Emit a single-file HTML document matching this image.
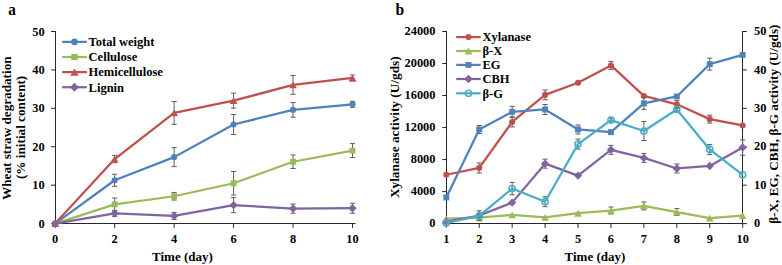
<!DOCTYPE html>
<html><head><meta charset="utf-8"><style>html,body{margin:0;padding:0;background:#fff;width:782px;height:265px;overflow:hidden}svg{display:block}</style></head>
<body><svg width="782" height="265" viewBox="0 0 782 265">
<rect width="782" height="265" fill="#fff"/>
<path d="M55.5 31.00V223.5H355.5" stroke="#262626" stroke-width="1" fill="none"/>
<path d="M51 223.60H55.5" stroke="#262626" stroke-width="1"/>
<text x="44.6" y="227.70" text-anchor="end" font-family="Liberation Serif" font-weight="bold" font-size="12.4">0</text>
<path d="M51 185.18H55.5" stroke="#262626" stroke-width="1"/>
<text x="44.6" y="189.28" text-anchor="end" font-family="Liberation Serif" font-weight="bold" font-size="12.4">10</text>
<path d="M51 146.76H55.5" stroke="#262626" stroke-width="1"/>
<text x="44.6" y="150.86" text-anchor="end" font-family="Liberation Serif" font-weight="bold" font-size="12.4">20</text>
<path d="M51 108.34H55.5" stroke="#262626" stroke-width="1"/>
<text x="44.6" y="112.44" text-anchor="end" font-family="Liberation Serif" font-weight="bold" font-size="12.4">30</text>
<path d="M51 69.92H55.5" stroke="#262626" stroke-width="1"/>
<text x="44.6" y="74.02" text-anchor="end" font-family="Liberation Serif" font-weight="bold" font-size="12.4">40</text>
<path d="M51 31.50H55.5" stroke="#262626" stroke-width="1"/>
<text x="44.6" y="35.60" text-anchor="end" font-family="Liberation Serif" font-weight="bold" font-size="12.4">50</text>
<path d="M55.20 223.5V227.8" stroke="#262626" stroke-width="1"/>
<text x="55.20" y="242.7" text-anchor="middle" font-family="Liberation Serif" font-weight="bold" font-size="12.4">0</text>
<path d="M114.66 223.5V227.8" stroke="#262626" stroke-width="1"/>
<text x="114.66" y="242.7" text-anchor="middle" font-family="Liberation Serif" font-weight="bold" font-size="12.4">2</text>
<path d="M174.12 223.5V227.8" stroke="#262626" stroke-width="1"/>
<text x="174.12" y="242.7" text-anchor="middle" font-family="Liberation Serif" font-weight="bold" font-size="12.4">4</text>
<path d="M233.58 223.5V227.8" stroke="#262626" stroke-width="1"/>
<text x="233.58" y="242.7" text-anchor="middle" font-family="Liberation Serif" font-weight="bold" font-size="12.4">6</text>
<path d="M293.04 223.5V227.8" stroke="#262626" stroke-width="1"/>
<text x="293.04" y="242.7" text-anchor="middle" font-family="Liberation Serif" font-weight="bold" font-size="12.4">8</text>
<path d="M352.50 223.5V227.8" stroke="#262626" stroke-width="1"/>
<text x="352.50" y="242.7" text-anchor="middle" font-family="Liberation Serif" font-weight="bold" font-size="12.4">10</text>
<path d="M114.66 174.26V186.26M112.06 174.26H117.26M112.06 186.26H117.26" stroke="#5f5f5f" stroke-width="1" fill="none"/>
<path d="M174.12 147.63V166.63M171.52 147.63H176.72M171.52 166.63H176.72" stroke="#5f5f5f" stroke-width="1" fill="none"/>
<path d="M233.58 114.48V134.48M230.98 114.48H236.18M230.98 134.48H236.18" stroke="#5f5f5f" stroke-width="1" fill="none"/>
<path d="M293.04 102.58V117.18M290.44 102.58H295.64M290.44 117.18H295.64" stroke="#5f5f5f" stroke-width="1" fill="none"/>
<path d="M352.50 101.31V107.31M349.90 101.31H355.10M349.90 107.31H355.10" stroke="#5f5f5f" stroke-width="1" fill="none"/>
<polyline points="55.20,223.60 114.66,180.26 174.12,157.13 233.58,124.48 293.04,109.88 352.50,104.31" fill="none" stroke="#4F81BD" stroke-width="2.25" stroke-linejoin="round"/>
<circle cx="55.20" cy="223.60" r="3.05" fill="#4F81BD"/>
<circle cx="114.66" cy="180.26" r="3.05" fill="#4F81BD"/>
<circle cx="174.12" cy="157.13" r="3.05" fill="#4F81BD"/>
<circle cx="233.58" cy="124.48" r="3.05" fill="#4F81BD"/>
<circle cx="293.04" cy="109.88" r="3.05" fill="#4F81BD"/>
<circle cx="352.50" cy="104.31" r="3.05" fill="#4F81BD"/>
<path d="M114.66 197.99V210.79M112.06 197.99H117.26M112.06 210.79H117.26" stroke="#5f5f5f" stroke-width="1" fill="none"/>
<path d="M174.12 192.44V200.04M171.52 192.44H176.72M171.52 200.04H176.72" stroke="#5f5f5f" stroke-width="1" fill="none"/>
<path d="M233.58 171.46V195.06M230.98 171.46H236.18M230.98 195.06H236.18" stroke="#5f5f5f" stroke-width="1" fill="none"/>
<path d="M293.04 154.94V168.54M290.44 154.94H295.64M290.44 168.54H295.64" stroke="#5f5f5f" stroke-width="1" fill="none"/>
<path d="M352.50 143.60V157.60M349.90 143.60H355.10M349.90 157.60H355.10" stroke="#5f5f5f" stroke-width="1" fill="none"/>
<polyline points="55.20,223.60 114.66,204.39 174.12,196.24 233.58,183.26 293.04,161.74 352.50,150.60" fill="none" stroke="#9BBB59" stroke-width="2.25" stroke-linejoin="round"/>
<rect x="52.25" y="220.65" width="5.90" height="5.90" fill="#9BBB59"/>
<rect x="111.71" y="201.44" width="5.90" height="5.90" fill="#9BBB59"/>
<rect x="171.17" y="193.29" width="5.90" height="5.90" fill="#9BBB59"/>
<rect x="230.63" y="180.31" width="5.90" height="5.90" fill="#9BBB59"/>
<rect x="290.09" y="158.79" width="5.90" height="5.90" fill="#9BBB59"/>
<rect x="349.55" y="147.65" width="5.90" height="5.90" fill="#9BBB59"/>
<path d="M114.66 155.35V162.75M112.06 155.35H117.26M112.06 162.75H117.26" stroke="#5f5f5f" stroke-width="1" fill="none"/>
<path d="M174.12 101.55V124.35M171.52 101.55H176.72M171.52 124.35H176.72" stroke="#5f5f5f" stroke-width="1" fill="none"/>
<path d="M233.58 93.16V108.16M230.98 93.16H236.18M230.98 108.16H236.18" stroke="#5f5f5f" stroke-width="1" fill="none"/>
<path d="M293.04 75.50V94.30M290.44 75.50H295.64M290.44 94.30H295.64" stroke="#5f5f5f" stroke-width="1" fill="none"/>
<path d="M352.50 74.99V80.99M349.90 74.99H355.10M349.90 80.99H355.10" stroke="#5f5f5f" stroke-width="1" fill="none"/>
<polyline points="55.20,223.60 114.66,159.05 174.12,112.95 233.58,100.66 293.04,84.90 352.50,77.99" fill="none" stroke="#C0504D" stroke-width="2.25" stroke-linejoin="round"/>
<polygon points="55.20,220.20 59.10,227.00 51.30,227.00" fill="#C0504D"/>
<polygon points="114.66,155.65 118.56,162.45 110.76,162.45" fill="#C0504D"/>
<polygon points="174.12,109.55 178.02,116.35 170.22,116.35" fill="#C0504D"/>
<polygon points="233.58,97.26 237.48,104.06 229.68,104.06" fill="#C0504D"/>
<polygon points="293.04,81.50 296.94,88.30 289.14,88.30" fill="#C0504D"/>
<polygon points="352.50,74.59 356.40,81.39 348.60,81.39" fill="#C0504D"/>
<path d="M114.66 210.42V216.42M112.06 210.42H117.26M112.06 216.42H117.26" stroke="#5f5f5f" stroke-width="1" fill="none"/>
<path d="M174.12 212.42V219.42M171.52 212.42H176.72M171.52 219.42H176.72" stroke="#5f5f5f" stroke-width="1" fill="none"/>
<path d="M233.58 197.66V212.66M230.98 197.66H236.18M230.98 212.66H236.18" stroke="#5f5f5f" stroke-width="1" fill="none"/>
<path d="M293.04 204.02V213.22M290.44 204.02H295.64M290.44 213.22H295.64" stroke="#5f5f5f" stroke-width="1" fill="none"/>
<path d="M352.50 203.23V213.23M349.90 203.23H355.10M349.90 213.23H355.10" stroke="#5f5f5f" stroke-width="1" fill="none"/>
<polyline points="55.20,223.60 114.66,213.42 174.12,215.92 233.58,205.16 293.04,208.62 352.50,208.23" fill="none" stroke="#8064A2" stroke-width="2.25" stroke-linejoin="round"/>
<polygon points="55.20,219.40 59.40,223.60 55.20,227.80 51.00,223.60" fill="#8064A2"/>
<polygon points="114.66,209.22 118.86,213.42 114.66,217.62 110.46,213.42" fill="#8064A2"/>
<polygon points="174.12,211.72 178.32,215.92 174.12,220.12 169.92,215.92" fill="#8064A2"/>
<polygon points="233.58,200.96 237.78,205.16 233.58,209.36 229.38,205.16" fill="#8064A2"/>
<polygon points="293.04,204.42 297.24,208.62 293.04,212.82 288.84,208.62" fill="#8064A2"/>
<polygon points="352.50,204.03 356.70,208.23 352.50,212.43 348.30,208.23" fill="#8064A2"/>
<path d="M62.2 41.90H86.9" stroke="#4F81BD" stroke-width="2.25"/>
<circle cx="74.50" cy="41.90" r="3.29" fill="#4F81BD"/>
<text x="88.6" y="46.20" font-family="Liberation Serif" font-weight="bold" font-size="12.5">Total weight</text>
<path d="M62.2 57.00H86.9" stroke="#9BBB59" stroke-width="2.25"/>
<rect x="71.31" y="53.81" width="6.37" height="6.37" fill="#9BBB59"/>
<text x="88.6" y="61.30" font-family="Liberation Serif" font-weight="bold" font-size="12.5">Cellulose</text>
<path d="M62.2 72.10H86.9" stroke="#C0504D" stroke-width="2.25"/>
<polygon points="74.50,68.43 78.71,75.77 70.29,75.77" fill="#C0504D"/>
<text x="88.6" y="76.40" font-family="Liberation Serif" font-weight="bold" font-size="12.5">Hemicellulose</text>
<path d="M62.2 87.20H86.9" stroke="#8064A2" stroke-width="2.25"/>
<polygon points="74.50,82.66 79.04,87.20 74.50,91.74 69.96,87.20" fill="#8064A2"/>
<text x="88.6" y="91.50" font-family="Liberation Serif" font-weight="bold" font-size="12.5">Lignin</text>
<text x="152" y="260.7" font-family="Liberation Serif" font-weight="bold" font-size="13">Time (day)</text>
<text transform="translate(11,128.2) rotate(-90)" text-anchor="middle" font-family="Liberation Serif" font-weight="bold" font-size="13.2">Wheat straw degradation</text>
<text transform="translate(25,127.4) rotate(-90)" text-anchor="middle" font-family="Liberation Serif" font-weight="bold" font-size="13.2">(% initial content)</text>
<text transform="translate(8.2,14.9) scale(1,1.1)" font-family="Liberation Serif" font-weight="bold" font-size="15.2">a</text>
<path d="M446.5 31.00V223.5H742.5V31.00" stroke="#262626" stroke-width="1" fill="none"/>
<path d="M442.3 223.60H446.5" stroke="#262626" stroke-width="1"/>
<text x="435.5" y="227.20" text-anchor="end" font-family="Liberation Serif" font-weight="bold" font-size="12.4">0</text>
<path d="M442.3 191.58H446.5" stroke="#262626" stroke-width="1"/>
<text x="435.5" y="195.18" text-anchor="end" font-family="Liberation Serif" font-weight="bold" font-size="12.4">4000</text>
<path d="M442.3 159.57H446.5" stroke="#262626" stroke-width="1"/>
<text x="435.5" y="163.17" text-anchor="end" font-family="Liberation Serif" font-weight="bold" font-size="12.4">8000</text>
<path d="M442.3 127.55H446.5" stroke="#262626" stroke-width="1"/>
<text x="435.5" y="131.15" text-anchor="end" font-family="Liberation Serif" font-weight="bold" font-size="12.4">12000</text>
<path d="M442.3 95.53H446.5" stroke="#262626" stroke-width="1"/>
<text x="435.5" y="99.13" text-anchor="end" font-family="Liberation Serif" font-weight="bold" font-size="12.4">16000</text>
<path d="M442.3 63.52H446.5" stroke="#262626" stroke-width="1"/>
<text x="435.5" y="67.12" text-anchor="end" font-family="Liberation Serif" font-weight="bold" font-size="12.4">20000</text>
<path d="M442.3 31.50H446.5" stroke="#262626" stroke-width="1"/>
<text x="435.5" y="35.10" text-anchor="end" font-family="Liberation Serif" font-weight="bold" font-size="12.4">24000</text>
<path d="M742.5 223.60H746.8" stroke="#262626" stroke-width="1"/>
<text x="754.0" y="227.30" font-family="Liberation Serif" font-weight="bold" font-size="12.4">0</text>
<path d="M742.5 185.18H746.8" stroke="#262626" stroke-width="1"/>
<text x="754.0" y="188.88" font-family="Liberation Serif" font-weight="bold" font-size="12.4">10</text>
<path d="M742.5 146.76H746.8" stroke="#262626" stroke-width="1"/>
<text x="754.0" y="150.46" font-family="Liberation Serif" font-weight="bold" font-size="12.4">20</text>
<path d="M742.5 108.34H746.8" stroke="#262626" stroke-width="1"/>
<text x="754.0" y="112.04" font-family="Liberation Serif" font-weight="bold" font-size="12.4">30</text>
<path d="M742.5 69.92H746.8" stroke="#262626" stroke-width="1"/>
<text x="754.0" y="73.62" font-family="Liberation Serif" font-weight="bold" font-size="12.4">40</text>
<path d="M742.5 31.50H746.8" stroke="#262626" stroke-width="1"/>
<text x="754.0" y="35.20" font-family="Liberation Serif" font-weight="bold" font-size="12.4">50</text>
<path d="M446.30 223.5V227.8" stroke="#262626" stroke-width="1"/>
<text x="446.30" y="242.7" text-anchor="middle" font-family="Liberation Serif" font-weight="bold" font-size="12.4">1</text>
<path d="M479.23 223.5V227.8" stroke="#262626" stroke-width="1"/>
<text x="479.23" y="242.7" text-anchor="middle" font-family="Liberation Serif" font-weight="bold" font-size="12.4">2</text>
<path d="M512.16 223.5V227.8" stroke="#262626" stroke-width="1"/>
<text x="512.16" y="242.7" text-anchor="middle" font-family="Liberation Serif" font-weight="bold" font-size="12.4">3</text>
<path d="M545.09 223.5V227.8" stroke="#262626" stroke-width="1"/>
<text x="545.09" y="242.7" text-anchor="middle" font-family="Liberation Serif" font-weight="bold" font-size="12.4">4</text>
<path d="M578.02 223.5V227.8" stroke="#262626" stroke-width="1"/>
<text x="578.02" y="242.7" text-anchor="middle" font-family="Liberation Serif" font-weight="bold" font-size="12.4">5</text>
<path d="M610.95 223.5V227.8" stroke="#262626" stroke-width="1"/>
<text x="610.95" y="242.7" text-anchor="middle" font-family="Liberation Serif" font-weight="bold" font-size="12.4">6</text>
<path d="M643.88 223.5V227.8" stroke="#262626" stroke-width="1"/>
<text x="643.88" y="242.7" text-anchor="middle" font-family="Liberation Serif" font-weight="bold" font-size="12.4">7</text>
<path d="M676.81 223.5V227.8" stroke="#262626" stroke-width="1"/>
<text x="676.81" y="242.7" text-anchor="middle" font-family="Liberation Serif" font-weight="bold" font-size="12.4">8</text>
<path d="M709.74 223.5V227.8" stroke="#262626" stroke-width="1"/>
<text x="709.74" y="242.7" text-anchor="middle" font-family="Liberation Serif" font-weight="bold" font-size="12.4">9</text>
<path d="M742.67 223.5V227.8" stroke="#262626" stroke-width="1"/>
<text x="742.67" y="242.7" text-anchor="middle" font-family="Liberation Serif" font-weight="bold" font-size="12.4">10</text>
<path d="M479.23 162.97V172.97M476.63 162.97H481.83M476.63 172.97H481.83" stroke="#5f5f5f" stroke-width="1" fill="none"/>
<path d="M512.16 116.95V126.95M509.56 116.95H514.76M509.56 126.95H514.76" stroke="#5f5f5f" stroke-width="1" fill="none"/>
<path d="M545.09 89.99V99.79M542.49 89.99H547.69M542.49 99.79H547.69" stroke="#5f5f5f" stroke-width="1" fill="none"/>
<path d="M610.95 61.44V69.44M608.35 61.44H613.55M608.35 69.44H613.55" stroke="#5f5f5f" stroke-width="1" fill="none"/>
<path d="M676.81 100.34V108.34M674.21 100.34H679.41M674.21 108.34H679.41" stroke="#5f5f5f" stroke-width="1" fill="none"/>
<path d="M709.74 115.15V123.15M707.14 115.15H712.34M707.14 123.15H712.34" stroke="#5f5f5f" stroke-width="1" fill="none"/>
<polyline points="446.30,174.77 479.23,167.97 512.16,121.95 545.09,94.89 578.02,82.73 610.95,65.44 643.88,95.93 676.81,104.34 709.74,119.15 742.67,125.47" fill="none" stroke="#C0504D" stroke-width="2.25" stroke-linejoin="round"/>
<circle cx="446.30" cy="174.77" r="3.05" fill="#C0504D"/>
<circle cx="479.23" cy="167.97" r="3.05" fill="#C0504D"/>
<circle cx="512.16" cy="121.95" r="3.05" fill="#C0504D"/>
<circle cx="545.09" cy="94.89" r="3.05" fill="#C0504D"/>
<circle cx="578.02" cy="82.73" r="3.05" fill="#C0504D"/>
<circle cx="610.95" cy="65.44" r="3.05" fill="#C0504D"/>
<circle cx="643.88" cy="95.93" r="3.05" fill="#C0504D"/>
<circle cx="676.81" cy="104.34" r="3.05" fill="#C0504D"/>
<circle cx="709.74" cy="119.15" r="3.05" fill="#C0504D"/>
<circle cx="742.67" cy="125.47" r="3.05" fill="#C0504D"/>
<path d="M610.95 207.04V214.04M608.35 207.04H613.55M608.35 214.04H613.55" stroke="#5f5f5f" stroke-width="1" fill="none"/>
<path d="M643.88 201.93V209.93M641.28 201.93H646.48M641.28 209.93H646.48" stroke="#5f5f5f" stroke-width="1" fill="none"/>
<path d="M676.81 208.57V215.57M674.21 208.57H679.41M674.21 215.57H679.41" stroke="#5f5f5f" stroke-width="1" fill="none"/>
<polyline points="446.30,218.72 479.23,217.72 512.16,214.92 545.09,217.45 578.02,213.23 610.95,210.54 643.88,205.93 676.81,212.07 709.74,218.11 742.67,215.72" fill="none" stroke="#9BBB59" stroke-width="2.25" stroke-linejoin="round"/>
<polygon points="446.30,215.32 450.20,222.12 442.40,222.12" fill="#9BBB59"/>
<polygon points="479.23,214.32 483.13,221.12 475.33,221.12" fill="#9BBB59"/>
<polygon points="512.16,211.52 516.06,218.32 508.26,218.32" fill="#9BBB59"/>
<polygon points="545.09,214.05 548.99,220.85 541.19,220.85" fill="#9BBB59"/>
<polygon points="578.02,209.83 581.92,216.63 574.12,216.63" fill="#9BBB59"/>
<polygon points="610.95,207.14 614.85,213.94 607.05,213.94" fill="#9BBB59"/>
<polygon points="643.88,202.53 647.78,209.33 639.98,209.33" fill="#9BBB59"/>
<polygon points="676.81,208.67 680.71,215.47 672.91,215.47" fill="#9BBB59"/>
<polygon points="709.74,214.71 713.64,221.51 705.84,221.51" fill="#9BBB59"/>
<polygon points="742.67,212.32 746.57,219.12 738.77,219.12" fill="#9BBB59"/>
<path d="M479.23 125.47V133.47M476.63 125.47H481.83M476.63 133.47H481.83" stroke="#5f5f5f" stroke-width="1" fill="none"/>
<path d="M512.16 106.30V117.30M509.56 106.30H514.76M509.56 117.30H514.76" stroke="#5f5f5f" stroke-width="1" fill="none"/>
<path d="M545.09 104.49V114.49M542.49 104.49H547.69M542.49 114.49H547.69" stroke="#5f5f5f" stroke-width="1" fill="none"/>
<path d="M578.02 124.97V133.97M575.42 124.97H580.62M575.42 133.97H580.62" stroke="#5f5f5f" stroke-width="1" fill="none"/>
<path d="M643.88 97.35V109.35M641.28 97.35H646.48M641.28 109.35H646.48" stroke="#5f5f5f" stroke-width="1" fill="none"/>
<path d="M709.74 58.16V70.16M707.14 58.16H712.34M707.14 70.16H712.34" stroke="#5f5f5f" stroke-width="1" fill="none"/>
<polyline points="446.30,197.47 479.23,129.47 512.16,111.80 545.09,109.49 578.02,129.47 610.95,132.16 643.88,103.35 676.81,96.43 709.74,64.16 742.67,54.94" fill="none" stroke="#4F81BD" stroke-width="2.25" stroke-linejoin="round"/>
<rect x="443.35" y="194.52" width="5.90" height="5.90" fill="#4F81BD"/>
<rect x="476.28" y="126.52" width="5.90" height="5.90" fill="#4F81BD"/>
<rect x="509.21" y="108.85" width="5.90" height="5.90" fill="#4F81BD"/>
<rect x="542.14" y="106.54" width="5.90" height="5.90" fill="#4F81BD"/>
<rect x="575.07" y="126.52" width="5.90" height="5.90" fill="#4F81BD"/>
<rect x="608.00" y="129.21" width="5.90" height="5.90" fill="#4F81BD"/>
<rect x="640.93" y="100.40" width="5.90" height="5.90" fill="#4F81BD"/>
<rect x="673.86" y="93.48" width="5.90" height="5.90" fill="#4F81BD"/>
<rect x="706.79" y="61.21" width="5.90" height="5.90" fill="#4F81BD"/>
<rect x="739.72" y="51.99" width="5.90" height="5.90" fill="#4F81BD"/>
<path d="M545.09 159.16V168.16M542.49 159.16H547.69M542.49 168.16H547.69" stroke="#5f5f5f" stroke-width="1" fill="none"/>
<path d="M610.95 145.33V154.33M608.35 145.33H613.55M608.35 154.33H613.55" stroke="#5f5f5f" stroke-width="1" fill="none"/>
<path d="M643.88 153.40V162.40M641.28 153.40H646.48M641.28 162.40H646.48" stroke="#5f5f5f" stroke-width="1" fill="none"/>
<path d="M676.81 163.97V172.97M674.21 163.97H679.41M674.21 172.97H679.41" stroke="#5f5f5f" stroke-width="1" fill="none"/>
<path d="M742.67 139.83V155.23M740.07 139.83H745.27M740.07 155.23H745.27" stroke="#5f5f5f" stroke-width="1" fill="none"/>
<polyline points="446.30,221.49 479.23,215.53 512.16,202.62 545.09,163.66 578.02,175.57 610.95,149.83 643.88,157.90 676.81,168.47 709.74,165.97 742.67,147.53" fill="none" stroke="#8064A2" stroke-width="2.25" stroke-linejoin="round"/>
<polygon points="446.30,217.29 450.50,221.49 446.30,225.69 442.10,221.49" fill="#8064A2"/>
<polygon points="479.23,211.33 483.43,215.53 479.23,219.73 475.03,215.53" fill="#8064A2"/>
<polygon points="512.16,198.42 516.36,202.62 512.16,206.82 507.96,202.62" fill="#8064A2"/>
<polygon points="545.09,159.46 549.29,163.66 545.09,167.86 540.89,163.66" fill="#8064A2"/>
<polygon points="578.02,171.38 582.22,175.57 578.02,179.77 573.82,175.57" fill="#8064A2"/>
<polygon points="610.95,145.63 615.15,149.83 610.95,154.03 606.75,149.83" fill="#8064A2"/>
<polygon points="643.88,153.70 648.08,157.90 643.88,162.10 639.68,157.90" fill="#8064A2"/>
<polygon points="676.81,164.27 681.01,168.47 676.81,172.67 672.61,168.47" fill="#8064A2"/>
<polygon points="709.74,161.77 713.94,165.97 709.74,170.17 705.54,165.97" fill="#8064A2"/>
<polygon points="742.67,143.33 746.87,147.53 742.67,151.73 738.47,147.53" fill="#8064A2"/>
<path d="M479.23 210.80V220.80M476.63 210.80H481.83M476.63 220.80H481.83" stroke="#5f5f5f" stroke-width="1" fill="none"/>
<path d="M512.16 182.36V194.76M509.56 182.36H514.76M509.56 194.76H514.76" stroke="#5f5f5f" stroke-width="1" fill="none"/>
<path d="M545.09 196.70V206.70M542.49 196.70H547.69M542.49 206.70H547.69" stroke="#5f5f5f" stroke-width="1" fill="none"/>
<path d="M578.02 139.07V149.07M575.42 139.07H580.62M575.42 149.07H580.62" stroke="#5f5f5f" stroke-width="1" fill="none"/>
<path d="M610.95 118.06V122.06M608.35 118.06H613.55M608.35 122.06H613.55" stroke="#5f5f5f" stroke-width="1" fill="none"/>
<path d="M643.88 121.51V140.51M641.28 121.51H646.48M641.28 140.51H646.48" stroke="#5f5f5f" stroke-width="1" fill="none"/>
<path d="M676.81 107.49V111.49M674.21 107.49H679.41M674.21 111.49H679.41" stroke="#5f5f5f" stroke-width="1" fill="none"/>
<path d="M709.74 144.45V154.45M707.14 144.45H712.34M707.14 154.45H712.34" stroke="#5f5f5f" stroke-width="1" fill="none"/>
<polyline points="446.30,223.02 479.23,215.80 512.16,188.56 545.09,201.70 578.02,144.07 610.95,120.06 643.88,131.01 676.81,109.49 709.74,149.45 742.67,174.81" fill="none" stroke="#4BACC6" stroke-width="2.25" stroke-linejoin="round"/>
<circle cx="446.30" cy="223.02" r="3.10" fill="none" stroke="#4BACC6" stroke-width="1.5"/>
<circle cx="479.23" cy="215.80" r="3.10" fill="none" stroke="#4BACC6" stroke-width="1.5"/>
<circle cx="512.16" cy="188.56" r="3.10" fill="none" stroke="#4BACC6" stroke-width="1.5"/>
<circle cx="545.09" cy="201.70" r="3.10" fill="none" stroke="#4BACC6" stroke-width="1.5"/>
<circle cx="578.02" cy="144.07" r="3.10" fill="none" stroke="#4BACC6" stroke-width="1.5"/>
<circle cx="610.95" cy="120.06" r="3.10" fill="none" stroke="#4BACC6" stroke-width="1.5"/>
<circle cx="643.88" cy="131.01" r="3.10" fill="none" stroke="#4BACC6" stroke-width="1.5"/>
<circle cx="676.81" cy="109.49" r="3.10" fill="none" stroke="#4BACC6" stroke-width="1.5"/>
<circle cx="709.74" cy="149.45" r="3.10" fill="none" stroke="#4BACC6" stroke-width="1.5"/>
<circle cx="742.67" cy="174.81" r="3.10" fill="none" stroke="#4BACC6" stroke-width="1.5"/>
<path d="M456.2 37.10H480.7" stroke="#C0504D" stroke-width="2.25"/>
<circle cx="468.50" cy="37.10" r="3.05" fill="#C0504D"/>
<text x="482.4" y="41.40" font-family="Liberation Serif" font-weight="bold" font-size="12.5">Xylanase</text>
<path d="M456.2 51.00H480.7" stroke="#9BBB59" stroke-width="2.25"/>
<polygon points="468.50,47.60 472.40,54.40 464.60,54.40" fill="#9BBB59"/>
<text x="482.4" y="55.30" font-family="Liberation Serif" font-weight="bold" font-size="12.5">β-X</text>
<path d="M456.2 64.90H480.7" stroke="#4F81BD" stroke-width="2.25"/>
<rect x="465.55" y="61.95" width="5.90" height="5.90" fill="#4F81BD"/>
<text x="482.4" y="69.20" font-family="Liberation Serif" font-weight="bold" font-size="12.5">EG</text>
<path d="M456.2 79.00H480.7" stroke="#8064A2" stroke-width="2.25"/>
<polygon points="468.50,74.80 472.70,79.00 468.50,83.20 464.30,79.00" fill="#8064A2"/>
<text x="482.4" y="83.30" font-family="Liberation Serif" font-weight="bold" font-size="12.5">CBH</text>
<path d="M456.2 93.30H480.7" stroke="#4BACC6" stroke-width="2.25"/>
<circle cx="468.50" cy="93.30" r="3.10" fill="none" stroke="#4BACC6" stroke-width="1.5"/>
<text x="482.4" y="97.60" font-family="Liberation Serif" font-weight="bold" font-size="12.5">β-G</text>
<text x="564.5" y="261.2" font-family="Liberation Serif" font-weight="bold" font-size="13">Time (day)</text>
<text transform="translate(399,127.2) rotate(-90)" text-anchor="middle" font-family="Liberation Serif" font-weight="bold" font-size="13.3">Xylanase activity (U/gds)</text>
<text transform="translate(778,124.2) rotate(-90)" text-anchor="middle" font-family="Liberation Serif" font-weight="bold" font-size="13.2">β-X, EG, CBH, β-G activity (U/gds)</text>
<text transform="translate(395.6,15.1) scale(1,1.08)" font-family="Liberation Serif" font-weight="bold" font-size="15.6">b</text>
</svg></body></html>
